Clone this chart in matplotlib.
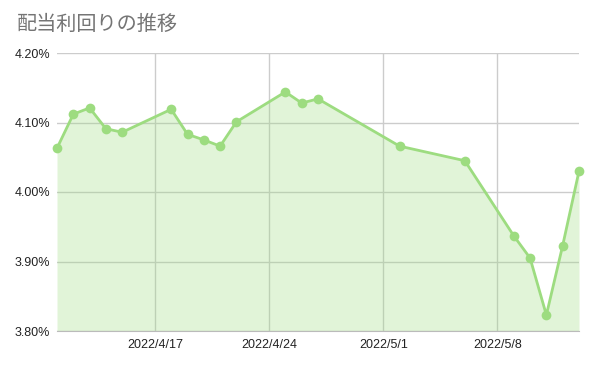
import matplotlib
matplotlib.use("Agg")
import matplotlib.pyplot as plt
import matplotlib.ticker as mticker
import pandas as pd

plt.rcParams['font.family'] = ['Noto Sans CJK JP', 'DejaVu Sans']

# --------------------------
# data
# --------------------------
dates = [
    "2022-04-11", "2022-04-12", "2022-04-13", "2022-04-14", "2022-04-15",
    "2022-04-18", "2022-04-19", "2022-04-20", "2022-04-21", "2022-04-22",
    "2022-04-25", "2022-04-26", "2022-04-27",
    "2022-05-02", "2022-05-06",
    "2022-05-09", "2022-05-10", "2022-05-11", "2022-05-12", "2022-05-13",
]
yields = [
    4.063, 4.112, 4.121, 4.091, 4.086,
    4.119, 4.083, 4.075, 4.066, 4.101,
    4.144, 4.128, 4.134,
    4.066, 4.045,
    3.937, 3.905, 3.823, 3.923, 4.030,
]
tick_dates = ["2022-04-17", "2022-04-24", "2022-05-01", "2022-05-08"]
tick_labels = ["2022/4/17", "2022/4/24", "2022/5/1", "2022/5/8"]
y_ticks = [3.80, 3.90, 4.00, 4.10, 4.20]

x = pd.to_datetime(dates)
line_color = "#9ddc80"

fig = plt.figure(figsize=(5.96, 3.67), dpi=100)
ax = fig.add_axes([57 / 596, 36 / 367, 522 / 596, 278 / 367])

# grid first, fill on top (tints the grid green inside the area)
ax.set_axisbelow(True)
ax.grid(True, color="#cccccc", linewidth=1)
ax.fill_between(x, yields, 3.80, color=line_color, alpha=0.3, linewidth=0, zorder=2)
ax.plot(x, yields, color=line_color, linewidth=2, marker="o", markersize=7,
        markeredgewidth=0, zorder=3, clip_on=False)

ax.set_xlim(x[0], x[-1])
ax.set_ylim(3.80, 4.20)
ax.set_yticks(y_ticks)
ax.yaxis.set_major_formatter(mticker.FuncFormatter(lambda v, p: f"{v:.2f}%"))
ax.set_xticks(pd.to_datetime(tick_dates))
ax.set_xticklabels(tick_labels)

for side in ["top", "right", "left"]:
    ax.spines[side].set_visible(False)
ax.spines["bottom"].set_color("#bbbbbb")
ax.tick_params(length=0, labelsize=9, labelcolor="#222222", pad=6,
               labelfontfamily="Liberation Sans")
ax.tick_params(axis="y", pad=5)

fig.text(17 / 596, 1 - 24 / 367, "配当利回りの推移", fontsize=14.5, color="#757575",
         va="center", ha="left")

plt.savefig("out.png", dpi=100)
